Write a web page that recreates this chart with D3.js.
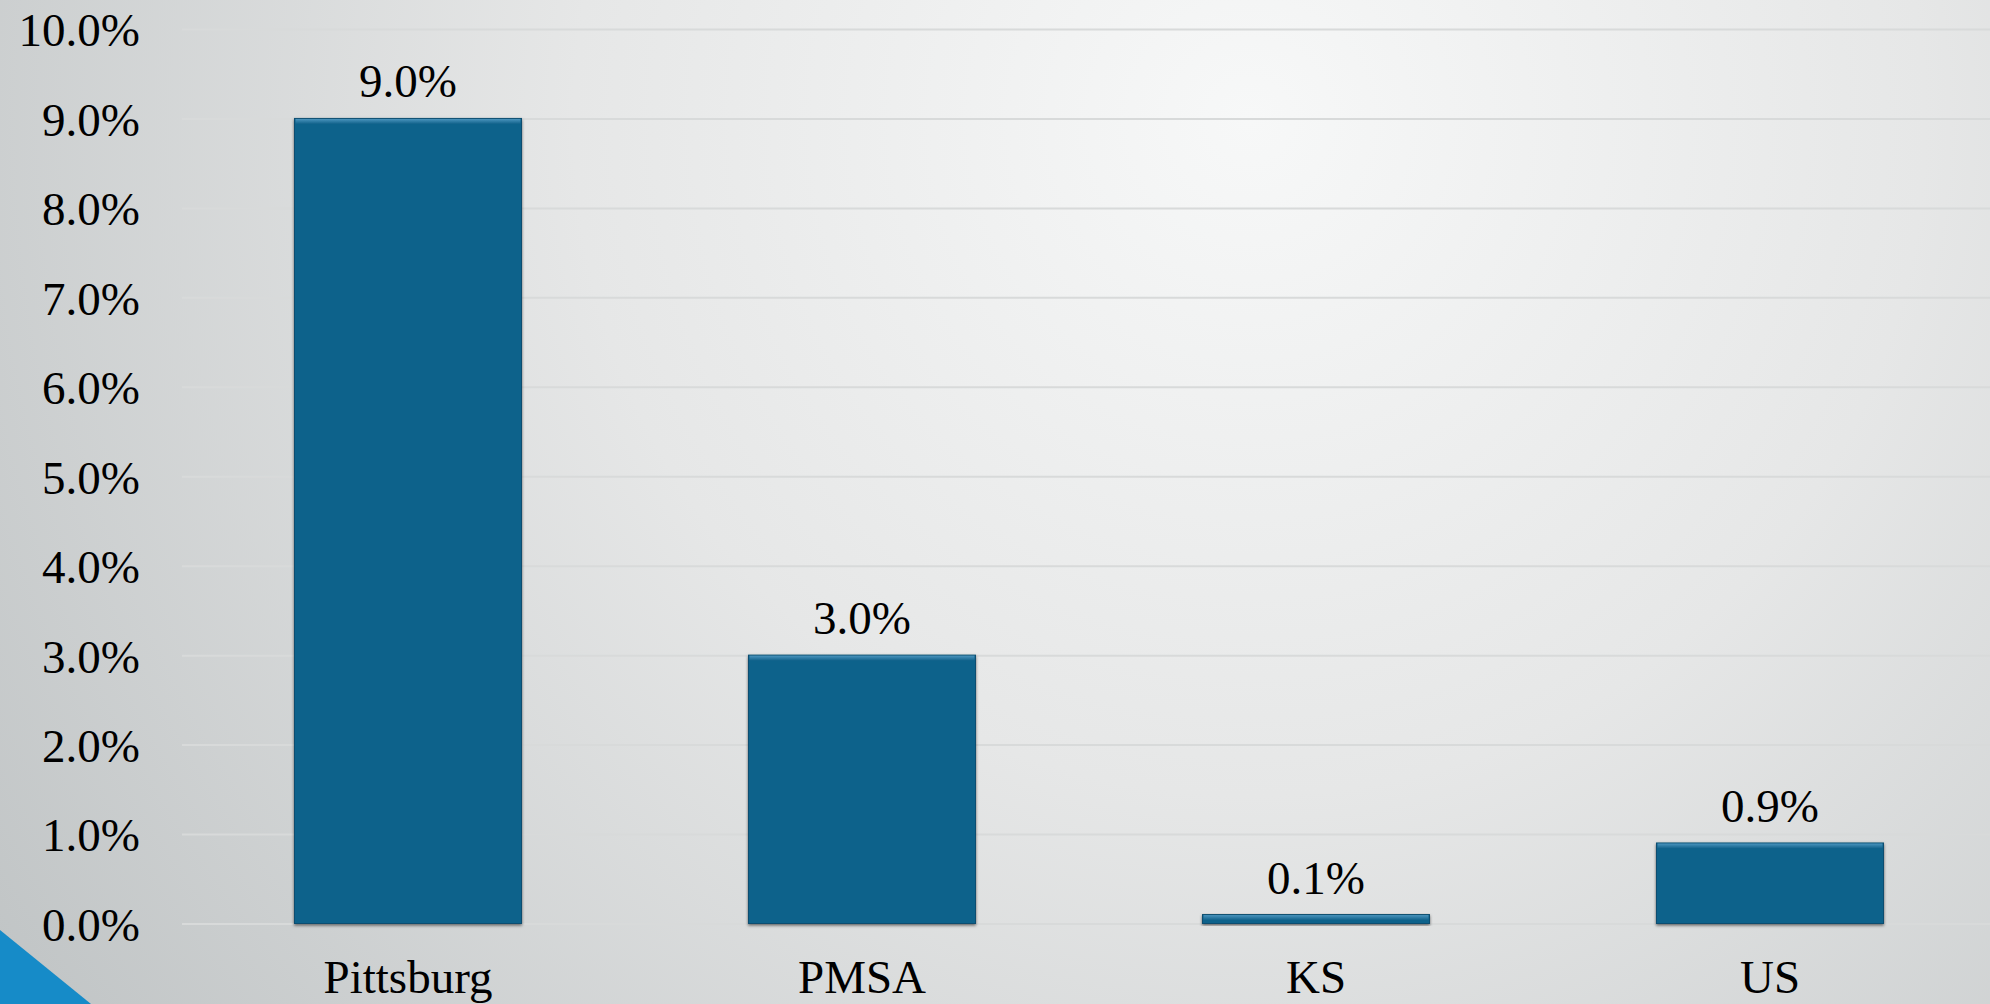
<!DOCTYPE html>
<html>
<head>
<meta charset="utf-8">
<script src="https://cdn.jsdelivr.net/npm/d3@7"></script>
<style>
  html, body { margin: 0; padding: 0; overflow: hidden; }
  svg { display: block; }
</style>
</head>
<body>
<svg id="chart" width="1990" height="1004"></svg>
<script>
// Growth by area
const categories = ["Pittsburg", "PMSA", "KS", "US"];
const values = [0.090, 0.030, 0.001, 0.009];
const valueLabels = ["9.0%", "3.0%", "0.1%", "0.9%"];
const yTicks = [0, 0.01, 0.02, 0.03, 0.04, 0.05, 0.06, 0.07, 0.08, 0.09, 0.10];

const W = 1990, H = 1004;
const serif = "'Liberation Serif', 'Times New Roman', serif";
const svg = d3.select("#chart");
const defs = svg.append("defs");

// Slide backdrop: soft radial light over grey
const bg = defs.append("radialGradient")
  .attr("id", "bg").attr("gradientUnits", "userSpaceOnUse")
  .attr("cx", 1250).attr("cy", 120).attr("r", 1500);
bg.append("stop").attr("offset", "0%").attr("stop-color", "#f7f8f8");
bg.append("stop").attr("offset", "45%").attr("stop-color", "#e6e7e7");
bg.append("stop").attr("offset", "100%").attr("stop-color", "#c1c5c6");
svg.append("rect").attr("width", W).attr("height", H).attr("fill", "url(#bg)");

// Bar shadow
const sh = defs.append("filter").attr("id", "shadow")
  .attr("x", "-10%").attr("y", "-10%").attr("width", "120%").attr("height", "130%");
sh.append("feDropShadow").attr("dx", 0).attr("dy", 1.5).attr("stdDeviation", 1.5)
  .attr("flood-color", "#000").attr("flood-opacity", 0.55);

// Bevel gradient for the top edge of each bar
const bevel = defs.append("linearGradient").attr("id", "bevel")
  .attr("x1", 0).attr("y1", 0).attr("x2", 0).attr("y2", 1);
bevel.append("stop").attr("offset", "0%").attr("stop-color", "#4a94bd");
bevel.append("stop").attr("offset", "100%").attr("stop-color", "#11628b");

const x = d3.scaleBand().domain(categories).range([181, 1997])
  .paddingInner(0.5).paddingOuter(0.25);
const y = d3.scaleLinear().domain([0, 0.10]).range([923.5, 29]);

const fmt = d3.format(".1%");

// Gridlines
const grid = d3.axisLeft(y).tickValues(yTicks).tickSize(-(W - 182)).tickFormat("");
svg.append("g").attr("transform", "translate(182,0)").call(grid)
  .call(g => g.select(".domain").remove())
  .call(g => g.selectAll("line").attr("stroke", "#d8dada").attr("stroke-width", 2));

// Y axis labels
const yAxis = d3.axisLeft(y).tickValues(yTicks).tickSize(0).tickPadding(0).tickFormat(fmt);
svg.append("g").attr("transform", "translate(140,0)").call(yAxis)
  .attr("font-family", serif)
  .call(g => g.select(".domain").remove())
  .call(g => g.selectAll("text")
    .style("font-family", serif)
    .attr("font-size", 47).attr("fill", "#000").attr("dy", "0.36em"));

// Bars
const bars = svg.append("g");
bars.selectAll("rect.bar").data(categories).join("rect")
  .attr("class", "bar")
  .attr("x", d => x(d))
  .attr("width", x.bandwidth())
  .attr("y", (d, i) => y(values[i]))
  .attr("height", (d, i) => y(0) - y(values[i]))
  .attr("fill", "#11628b")
  .attr("stroke", "#0d4e70").attr("stroke-width", 1)
  .attr("filter", "url(#shadow)");
bars.selectAll("rect.bevel").data(categories).join("rect")
  .attr("class", "bevel")
  .attr("x", d => x(d) + 1)
  .attr("width", x.bandwidth() - 2)
  .attr("y", (d, i) => y(values[i]) + 0.5)
  .attr("height", (d, i) => Math.min(5, y(0) - y(values[i]) - 1))
  .attr("fill", "url(#bevel)");

// Value labels
svg.append("g").selectAll("text").data(categories).join("text")
  .attr("x", d => x(d) + x.bandwidth() / 2)
  .attr("y", (d, i) => y(values[i]) - 21)
  .attr("text-anchor", "middle")
  .style("font-family", serif)
  .attr("font-size", 47).attr("fill", "#000")
  .text((d, i) => valueLabels[i]);

// Category axis
const xAxis = d3.axisBottom(x).tickSize(0).tickPadding(0);
svg.append("g").attr("transform", "translate(0,993)").call(xAxis)
  .attr("font-family", serif)
  .call(g => g.select(".domain").remove())
  .call(g => g.selectAll("text")
    .style("font-family", serif)
    .attr("font-size", 47).attr("fill", "#000").attr("dy", 0));

// Corner accent
svg.append("path").attr("d", "M0,930 L91,1004 L0,1004 Z").attr("fill", "#168bc8");
</script>
</body>
</html>
